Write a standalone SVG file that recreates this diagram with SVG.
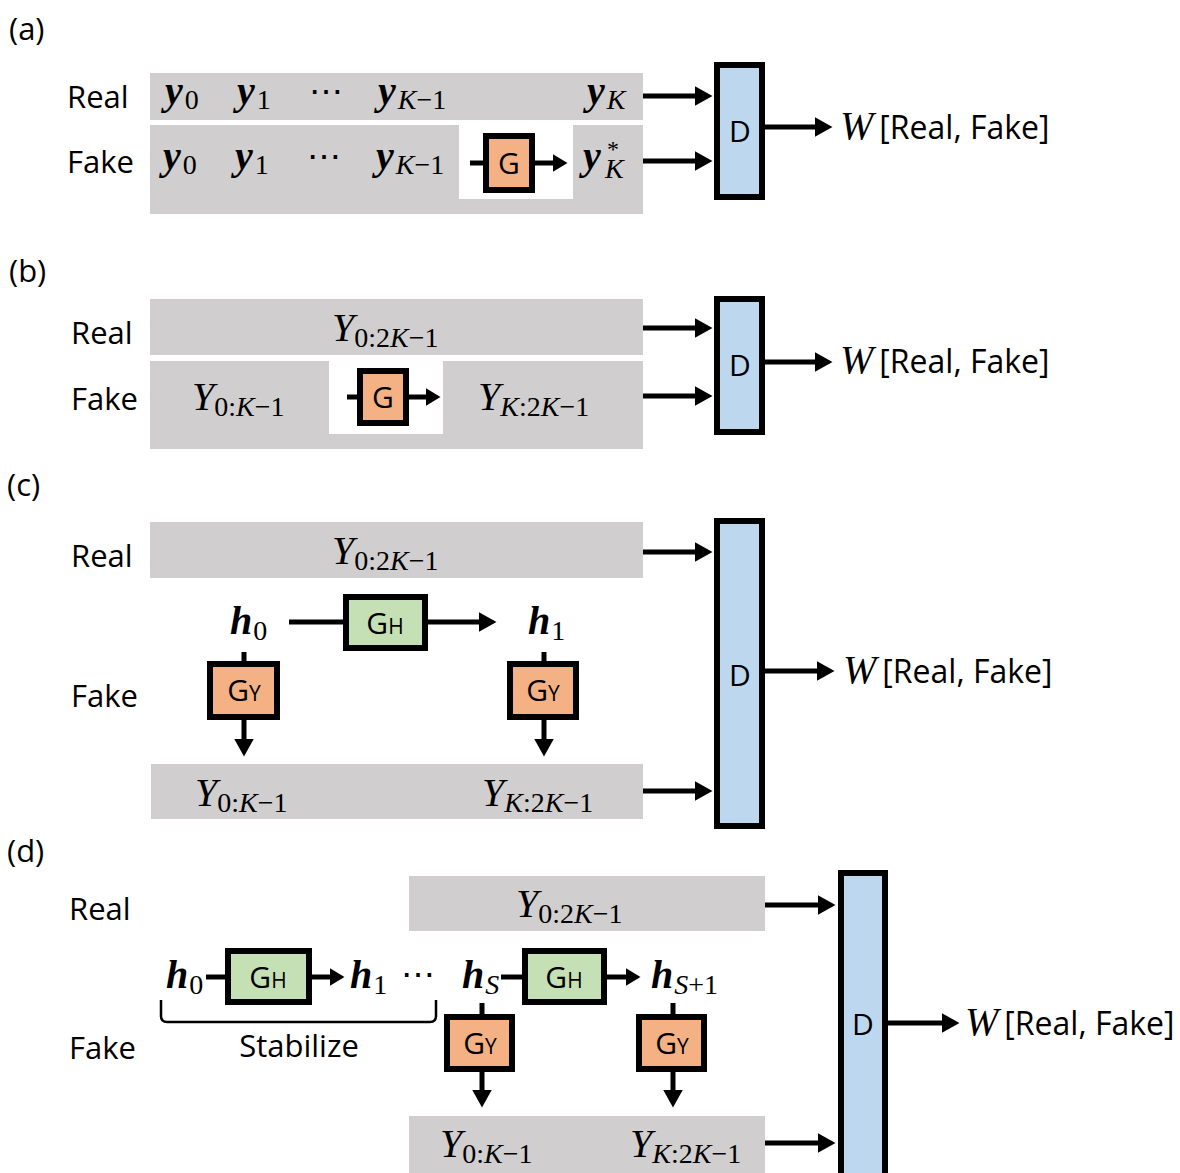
<svg xmlns="http://www.w3.org/2000/svg" width="1180" height="1173" viewBox="0 0 1180 1173">
  <style>
    .lbl { font-family: "Open Sans", "Liberation Sans", sans-serif; font-size: 31px; fill: #000; }
    .out { font-family: "Open Sans", "Liberation Sans", sans-serif; font-size: 32px; font-style: normal; }
    .blk { font-family: "Open Sans", "Liberation Sans", sans-serif; font-size: 30px; fill: #000; }
    .small { font-size: 21px; }
    .m { font-family: "Liberation Serif", "DejaVu Serif", serif; font-size: 40px; font-style: italic; fill: #000; }
    .mb { font-weight: bold; }
    .s { font-size: 28px; font-style: normal; font-weight: normal; }
    .si { font-size: 28px; font-style: italic; font-weight: normal; }
    .star { font-size: 24px; font-style: normal; font-weight: normal; }
    .dots { font-family: "DejaVu Serif", serif; font-size: 34px; fill: #000; }
    .bar { fill: #D0CECE; }
    .hole { fill: #FFFFFF; }
    .g { fill: #F4B183; stroke: #000; stroke-width: 6; }
    .gh { fill: #C5E0B4; stroke: #000; stroke-width: 6; }
    .d { fill: #BDD7EE; stroke: #000; stroke-width: 6; }
    .ln { stroke: #000; stroke-width: 5; fill: none; }
    .arr { stroke: #000; stroke-width: 5; fill: none; marker-end: url(#ah); }
    .arrs { stroke: #000; stroke-width: 5; fill: none; marker-end: url(#ahs); }
    .brace { stroke: #000; stroke-width: 2.5; fill: none; }
  </style>
  <defs>
    <marker id="ah" viewBox="0 0 18 20" refX="0.5" refY="10" markerWidth="18" markerHeight="20" markerUnits="userSpaceOnUse" orient="auto">
      <path d="M0,0 L18,10 L0,20 Z" fill="#000"/>
    </marker>
    <marker id="ahs" viewBox="0 0 15 18" refX="0.5" refY="9" markerWidth="15" markerHeight="18" markerUnits="userSpaceOnUse" orient="auto">
      <path d="M0,0 L15,9 L0,18 Z" fill="#000"/>
    </marker>
  </defs>

  <!-- panel titles and row labels -->
  <g id="labels">
    <text class="lbl" x="9" y="40">(a)</text>
    <text class="lbl" x="9" y="282">(b)</text>
    <text class="lbl" x="7" y="496">(c)</text>
    <text class="lbl" x="7" y="862">(d)</text>
    <text class="lbl" x="67" y="108">Real</text>
    <text class="lbl" x="67" y="173">Fake</text>
    <text class="lbl" x="71" y="344">Real</text>
    <text class="lbl" x="71" y="410">Fake</text>
    <text class="lbl" x="71" y="567">Real</text>
    <text class="lbl" x="71" y="707">Fake</text>
    <text class="lbl" x="69" y="920">Real</text>
    <text class="lbl" x="69" y="1059">Fake</text>
  </g>

  <!-- ===== (a) one-step prediction ===== -->
  <g id="a-real">
    <rect class="bar" x="150" y="73" width="493" height="47"/>
    <text class="m mb" x="165" y="104">y<tspan class="s" dx="2" dy="5">0</tspan></text>
    <text class="m mb" x="237" y="104">y<tspan class="s" dx="2" dy="5">1</tspan></text>
    <text class="dots" x="326" y="103" text-anchor="middle">⋯</text>
    <text class="m mb" x="378" y="104">y<tspan class="si" dx="2" dy="5">K</tspan><tspan class="s">−1</tspan></text>
    <text class="m mb" x="587" y="104">y<tspan class="si" dx="2" dy="5">K</tspan></text>
  </g>
  <g id="a-fake">
    <rect class="bar" x="150" y="125" width="493" height="89"/>
    <rect class="hole" x="459" y="125" width="114" height="74"/>
    <text class="m mb" x="163" y="169">y<tspan class="s" dx="2" dy="5">0</tspan></text>
    <text class="m mb" x="235" y="169">y<tspan class="s" dx="2" dy="5">1</tspan></text>
    <text class="dots" x="324" y="168" text-anchor="middle">⋯</text>
    <text class="m mb" x="376" y="169">y<tspan class="si" dx="2" dy="5">K</tspan><tspan class="s">−1</tspan></text>
    <text class="m mb" x="583" y="169">y<tspan class="star" x="607" y="157">*</tspan><tspan class="si" x="605" y="178">K</tspan></text>
  </g>
  <g id="a-G">
    <rect class="g" x="486" y="136" width="46" height="54"/>
    <text class="blk" x="509" y="174" text-anchor="middle">G</text>
  </g>
  <g id="a-D">
    <rect class="d" x="717" y="65" width="45" height="132"/>
    <text class="blk" x="740" y="142" text-anchor="middle">D</text>
  </g>
  <text class="m" x="840" y="139">W<tspan class="out" dx="6">[Real, Fake]</tspan></text>

  <!-- ===== (b) sequence prediction ===== -->
  <g id="b-real">
    <rect class="bar" x="150" y="299" width="493" height="56"/>
    <text class="m" x="332" y="341">Y<tspan class="s" dy="6">0:2</tspan><tspan class="si">K</tspan><tspan class="s">−1</tspan></text>
  </g>
  <g id="b-fake">
    <rect class="bar" x="150" y="361" width="493" height="88"/>
    <rect class="hole" x="329" y="361" width="114" height="73"/>
    <text class="m" x="192" y="410">Y<tspan class="s" dy="6">0:</tspan><tspan class="si">K</tspan><tspan class="s">−1</tspan></text>
    <text class="m" x="478" y="410">Y<tspan class="si" dy="6">K</tspan><tspan class="s">:2</tspan><tspan class="si">K</tspan><tspan class="s">−1</tspan></text>
  </g>
  <g id="b-G">
    <rect class="g" x="360" y="371" width="46" height="52"/>
    <text class="blk" x="383" y="408" text-anchor="middle">G</text>
  </g>
  <g id="b-D">
    <rect class="d" x="717" y="299" width="45" height="133"/>
    <text class="blk" x="740" y="376" text-anchor="middle">D</text>
  </g>
  <text class="m" x="840" y="373">W<tspan class="out" dx="6">[Real, Fake]</tspan></text>

  <!-- ===== (c) hidden-state generator ===== -->
  <g id="c-real">
    <rect class="bar" x="150" y="522" width="493" height="56"/>
    <text class="m" x="332" y="564">Y<tspan class="s" dy="6">0:2</tspan><tspan class="si">K</tspan><tspan class="s">−1</tspan></text>
  </g>
  <g id="c-fake">
    <rect class="bar" x="151" y="764" width="492" height="55"/>
    <text class="m" x="195" y="806">Y<tspan class="s" dy="6">0:</tspan><tspan class="si">K</tspan><tspan class="s">−1</tspan></text>
    <text class="m" x="482" y="806">Y<tspan class="si" dy="6">K</tspan><tspan class="s">:2</tspan><tspan class="si">K</tspan><tspan class="s">−1</tspan></text>
  </g>
  <g id="c-h0"><text class="m mb" x="230" y="634">h<tspan class="s" dx="1" dy="6">0</tspan></text></g>
  <g id="c-h1"><text class="m mb" x="528" y="634">h<tspan class="s" dx="1" dy="6">1</tspan></text></g>

  <!-- ===== (d) stabilized hidden-state generator ===== -->
  <g id="d-real">
    <rect class="bar" x="409" y="876" width="356" height="55"/>
    <text class="m" x="516" y="917">Y<tspan class="s" dy="6">0:2</tspan><tspan class="si">K</tspan><tspan class="s">−1</tspan></text>
  </g>
  <g id="d-fake">
    <rect class="bar" x="409" y="1116" width="356" height="57"/>
    <text class="m" x="440" y="1157">Y<tspan class="s" dy="6">0:</tspan><tspan class="si">K</tspan><tspan class="s">−1</tspan></text>
    <text class="m" x="630" y="1157">Y<tspan class="si" dy="6">K</tspan><tspan class="s">:2</tspan><tspan class="si">K</tspan><tspan class="s">−1</tspan></text>
  </g>
  <g id="d-h0"><text class="m mb" x="166" y="988">h<tspan class="s" dx="1" dy="6">0</tspan></text></g>
  <g id="d-h1"><text class="m mb" x="350" y="988">h<tspan class="s" dx="1" dy="6">1</tspan></text></g>
  <text class="dots" x="418" y="986" text-anchor="middle">⋯</text>
  <g id="d-hS"><text class="m mb" x="462" y="988">h<tspan class="si" dx="1" dy="6">S</tspan></text></g>
  <g id="d-hS1"><text class="m mb" x="651" y="988">h<tspan class="si" dx="1" dy="6">S</tspan><tspan class="s">+1</tspan></text></g>
  <g id="d-stabilize">
    <path class="brace" d="M161,1000 L161,1016 Q161,1022 167,1022 L430,1022 Q436,1022 436,1016 L436,1000"/>
    <text class="lbl" x="299" y="1057" text-anchor="middle">Stabilize</text>
  </g>

  <!-- connectors -->
  <g id="connectors">
    <!-- (a) -->
    <line class="ln" x1="470" y1="163" x2="486" y2="163"/>
    <line class="arrs" x1="532" y1="163" x2="553" y2="163"/>
    <line class="arr" x1="643" y1="96" x2="695" y2="96"/>
    <line class="arr" x1="643" y1="161" x2="695" y2="161"/>
    <line class="arr" x1="762" y1="127" x2="815" y2="127"/>
    <!-- (b) -->
    <line class="ln" x1="347" y1="397" x2="360" y2="397"/>
    <line class="arrs" x1="406" y1="397" x2="426" y2="397"/>
    <line class="arr" x1="643" y1="328" x2="695" y2="328"/>
    <line class="arr" x1="643" y1="396" x2="695" y2="396"/>
    <line class="arr" x1="762" y1="362" x2="815" y2="362"/>
    <!-- (c) -->
    <line class="ln" x1="289" y1="622" x2="346" y2="622"/>
    <line class="arr" x1="425" y1="622" x2="479" y2="622"/>
    <line class="ln" x1="244" y1="652" x2="244" y2="664"/>
    <line class="arr" x1="244" y1="717" x2="244" y2="739"/>
    <line class="ln" x1="544" y1="652" x2="544" y2="664"/>
    <line class="arr" x1="544" y1="717" x2="544" y2="739"/>
    <line class="arr" x1="643" y1="552" x2="695" y2="552"/>
    <line class="arr" x1="643" y1="791" x2="695" y2="791"/>
    <line class="arr" x1="762" y1="671" x2="817" y2="671"/>
    <!-- (d) -->
    <line class="ln" x1="206" y1="977" x2="228" y2="977"/>
    <line class="arrs" x1="309" y1="977" x2="330" y2="977"/>
    <line class="ln" x1="501" y1="977" x2="525" y2="977"/>
    <line class="arrs" x1="604" y1="977" x2="626" y2="977"/>
    <line class="ln" x1="482" y1="1003" x2="482" y2="1017"/>
    <line class="arr" x1="482" y1="1069" x2="482" y2="1090"/>
    <line class="ln" x1="673" y1="1003" x2="673" y2="1017"/>
    <line class="arr" x1="673" y1="1069" x2="673" y2="1090"/>
    <line class="arr" x1="765" y1="905" x2="818" y2="905"/>
    <line class="arr" x1="765" y1="1143" x2="818" y2="1143"/>
    <line class="arr" x1="885" y1="1023" x2="942" y2="1023"/>
  </g>

  <!-- (c) generator blocks -->
  <g id="c-GH">
    <rect class="gh" x="346" y="597" width="79" height="51"/>
    <text class="blk" x="385" y="634" text-anchor="middle">G<tspan class="small">H</tspan></text>
  </g>
  <g id="c-GY0">
    <rect class="g" x="210" y="664" width="67" height="53"/>
    <text class="blk" x="244" y="701" text-anchor="middle">G<tspan class="small">Y</tspan></text>
  </g>
  <g id="c-GY1">
    <rect class="g" x="510" y="664" width="66" height="53"/>
    <text class="blk" x="543" y="701" text-anchor="middle">G<tspan class="small">Y</tspan></text>
  </g>
  <g id="c-D">
    <rect class="d" x="717" y="521" width="45" height="305"/>
    <text class="blk" x="740" y="686" text-anchor="middle">D</text>
  </g>
  <text class="m" x="843" y="683">W<tspan class="out" dx="6">[Real, Fake]</tspan></text>

  <!-- (d) generator blocks -->
  <g id="d-GH0">
    <rect class="gh" x="228" y="951" width="81" height="51"/>
    <text class="blk" x="268" y="988" text-anchor="middle">G<tspan class="small">H</tspan></text>
  </g>
  <g id="d-GH1">
    <rect class="gh" x="525" y="951" width="79" height="51"/>
    <text class="blk" x="564" y="988" text-anchor="middle">G<tspan class="small">H</tspan></text>
  </g>
  <g id="d-GY0">
    <rect class="g" x="447" y="1017" width="65" height="52"/>
    <text class="blk" x="480" y="1054" text-anchor="middle">G<tspan class="small">Y</tspan></text>
  </g>
  <g id="d-GY1">
    <rect class="g" x="639" y="1017" width="65" height="52"/>
    <text class="blk" x="672" y="1054" text-anchor="middle">G<tspan class="small">Y</tspan></text>
  </g>
  <g id="d-D">
    <rect class="d" x="841" y="873" width="44" height="306"/>
    <text class="blk" x="863" y="1035" text-anchor="middle">D</text>
  </g>
  <text class="m" x="965" y="1035">W<tspan class="out" dx="6">[Real, Fake]</tspan></text>
</svg>
